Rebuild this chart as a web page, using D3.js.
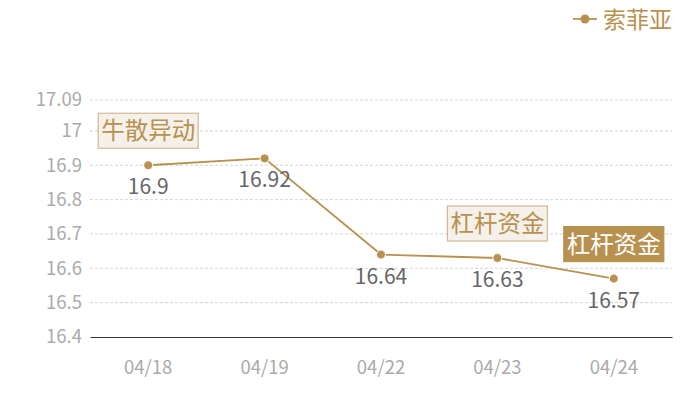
<!DOCTYPE html>
<html lang="zh">
<head>
    <meta charset="UTF-8">
    <title>索菲亚</title>
    <script src="https://d3js.org/d3.v7.min.js"></script>
    <style>
        body { margin: 0; background: #fff; }
        text { font-family: "Noto Sans CJK SC", "Noto Sans", sans-serif; }
    </style>
</head>
<body>
    <svg width="700" height="400"></svg>

    <script>
        // chart data
        const dates = ["04/18", "04/19", "04/22", "04/23", "04/24"];
        const prices = [16.9, 16.92, 16.64, 16.63, 16.57];
        const yTicks = [16.4, 16.5, 16.6, 16.7, 16.8, 16.9, 17, 17.09];
        const seriesName = "索菲亚";
        // annotations: index into dates, text, filled or not
        const noteIndex = [0, 3, 4];
        const noteText = ["牛散异动", "杠杆资金", "杠杆资金"];
        const noteFilled = [false, false, true];

        const gold = "#b8914f";

        const margin = { top: 100, right: 28, bottom: 63, left: 90 },
              width = 700 - margin.left - margin.right,
              height = 400 - margin.top - margin.bottom;

        const svg = d3.select("svg")
                      .append("g")
                      .attr("transform", `translate(${margin.left},${margin.top})`);

        const xScale = d3.scaleBand()
                         .domain(dates)
                         .range([0, width]);

        const yScale = d3.scaleLinear()
                         .domain([16.4, 17.09])
                         .range([height, 0]);

        const cx = d => xScale(d) + xScale.bandwidth() / 2;

        // gridlines
        svg.append("g")
           .selectAll("line")
           .data(yTicks.slice(1))
           .enter()
           .append("line")
           .attr("x1", 0)
           .attr("x2", width)
           .attr("y1", d => yScale(d))
           .attr("y2", d => yScale(d))
           .attr("stroke", "#d4d4d4")
           .attr("stroke-dasharray", "3,2");

        // y axis labels
        const yAxis = svg.append("g")
           .call(d3.axisLeft(yScale).tickValues(yTicks).tickSize(0).tickPadding(8).tickFormat(d => d));
        yAxis.select(".domain").remove();
        yAxis.selectAll("text")
             .style("font-size", "18.5px")
             .style("font-family", "'Noto Sans CJK SC', sans-serif")
             .attr("fill", "#aaa");

        // x axis
        const xAxis = svg.append("g")
           .attr("transform", `translate(0, ${height})`)
           .call(d3.axisBottom(xScale).tickSize(0).tickPadding(24));
        xAxis.select(".domain").attr("stroke", "#333").attr("stroke-width", 1.2);
        xAxis.selectAll("text")
             .style("font-size", "18.5px")
             .style("font-family", "'Noto Sans CJK SC', sans-serif")
             .attr("fill", "#aaa");

        // line
        const line = d3.line()
                       .x((d, i) => cx(dates[i]))
                       .y(d => yScale(d));

        svg.append("path")
           .datum(prices)
           .attr("fill", "none")
           .attr("stroke", gold)
           .attr("stroke-width", 1.8)
           .attr("d", line);

        svg.selectAll("circle")
           .data(prices)
           .enter()
           .append("circle")
           .attr("cx", (d, i) => cx(dates[i]))
           .attr("cy", d => yScale(d))
           .attr("r", 4.5)
           .attr("fill", gold)
           .attr("stroke", "#fff")
           .attr("stroke-width", 1);

        // value labels
        svg.selectAll("text.label")
           .data(prices)
           .enter()
           .append("text")
           .attr("class", "label")
           .attr("x", (d, i) => cx(dates[i]))
           .attr("y", d => yScale(d) + 29)
           .attr("text-anchor", "middle")
           .style("font-size", "21px")
           .attr("fill", "#666")
           .text(d => d);

        // annotation boxes
        const boxW = 100, boxH = 35;
        noteIndex.forEach((idx, k) => {
            const x = cx(dates[idx]);
            const y = yScale(prices[idx]) - 17;
            const g = svg.append("g");
            g.append("rect")
             .attr("x", x - boxW / 2)
             .attr("y", y - boxH)
             .attr("width", boxW)
             .attr("height", boxH)
             .attr("fill", noteFilled[k] ? gold : "#f5f0ea")
             .attr("stroke", noteFilled[k] ? gold : "#d2b88f")
             .attr("stroke-width", 1.2);
            g.append("text")
             .attr("x", x)
             .attr("y", y - boxH / 2 + 8.5)
             .attr("text-anchor", "middle")
             .style("font-size", "23.5px")
             .attr("fill", noteFilled[k] ? "#fff" : gold)
             .text(noteText[k]);
        });

        // legend
        const legend = d3.select("svg").append("g")
                         .attr("transform", "translate(573, 19)");
        legend.append("line")
              .attr("x1", 0).attr("x2", 24)
              .attr("stroke", gold).attr("stroke-width", 1.8);
        legend.append("circle")
              .attr("cx", 12).attr("r", 4.5).attr("fill", gold);
        legend.append("text")
              .attr("x", 30).attr("y", 8.5)
              .style("font-size", "23px")
              .attr("fill", gold)
              .text(seriesName);
    </script>
</body>
</html>
